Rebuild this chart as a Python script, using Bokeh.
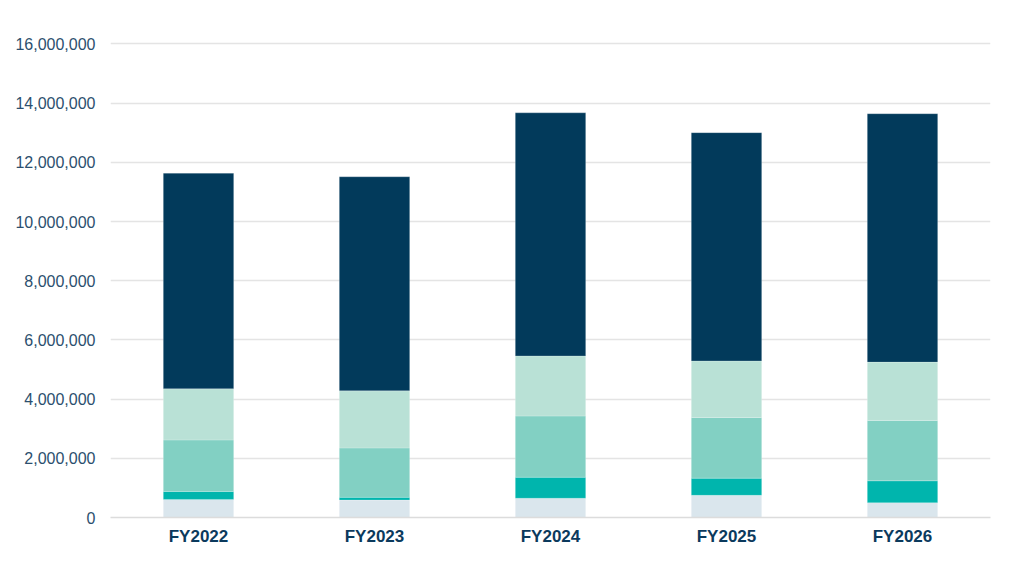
from bokeh.plotting import figure
from bokeh.models import ColumnDataSource, NumeralTickFormatter, FixedTicker, Range1d
from bokeh.embed import file_html
from bokeh.resources import INLINE

years = ["FY2022", "FY2023", "FY2024", "FY2025", "FY2026"]
seg_base = [610000, 590000, 650000, 750000, 500000]
seg_teal = [270000, 90000, 710000, 580000, 740000]
seg_mid = [1740000, 1670000, 2070000, 2050000, 2040000]
seg_light = [1730000, 1930000, 2030000, 1910000, 1970000]
totals = [11630000, 11510000, 13670000, 13000000, 13640000]
seg_dark = [t - (a + b + c + d) for t, a, b, c, d in zip(totals, seg_base, seg_teal, seg_mid, seg_light)]
y_ticks = [0, 2000000, 4000000, 6000000, 8000000, 10000000, 12000000, 14000000, 16000000]

keys = ["base", "teal", "mid", "light", "dark"]
colors = ["#dae6ed", "#00b5ad", "#82d0c3", "#b9e1d6", "#023a5b"]
source = ColumnDataSource(dict(years=years, base=seg_base, teal=seg_teal, mid=seg_mid,
                               light=seg_light, dark=seg_dark))

p = figure(x_range=years, y_range=Range1d(0, 16250000), output_backend="svg",
           toolbar_location=None, frame_width=880, frame_height=481,
           min_border_left=110, min_border_top=36, min_border_right=14, min_border_bottom=40)

p.vbar_stack(keys, x="years", width=0.4, color=colors, source=source,
             line_color="white", line_width=0.5, line_alpha=0.4)

p.outline_line_color = None
p.xgrid.grid_line_color = None
p.ygrid.grid_line_color = "#e4e4e4"
p.ygrid.grid_line_width = 1.5
p.yaxis.ticker = FixedTicker(ticks=y_ticks)
p.yaxis.formatter = NumeralTickFormatter(format="0,0")
p.yaxis.axis_line_color = None
p.yaxis.major_tick_line_color = None
p.yaxis.minor_tick_line_color = None
p.yaxis.major_label_standoff = 9
p.yaxis.major_label_text_font = "Liberation Sans"
p.yaxis.major_label_text_font_size = "16px"
p.yaxis.major_label_text_color = "#2c4f6e"

p.xaxis.axis_line_color = "#dcdcdc"
p.xaxis.axis_line_width = 1.5
p.xaxis.major_tick_line_color = None
p.xaxis.minor_tick_line_color = None
p.xaxis.major_label_standoff = 3
p.xaxis.major_label_text_font = "Liberation Sans"
p.xaxis.major_label_text_font_style = "bold"
p.xaxis.major_label_text_font_size = "17px"
p.xaxis.major_label_text_color = "#0b3a5d"
p.x_range.range_padding = 0

open("out.html", "w").write(file_html(p, INLINE))
